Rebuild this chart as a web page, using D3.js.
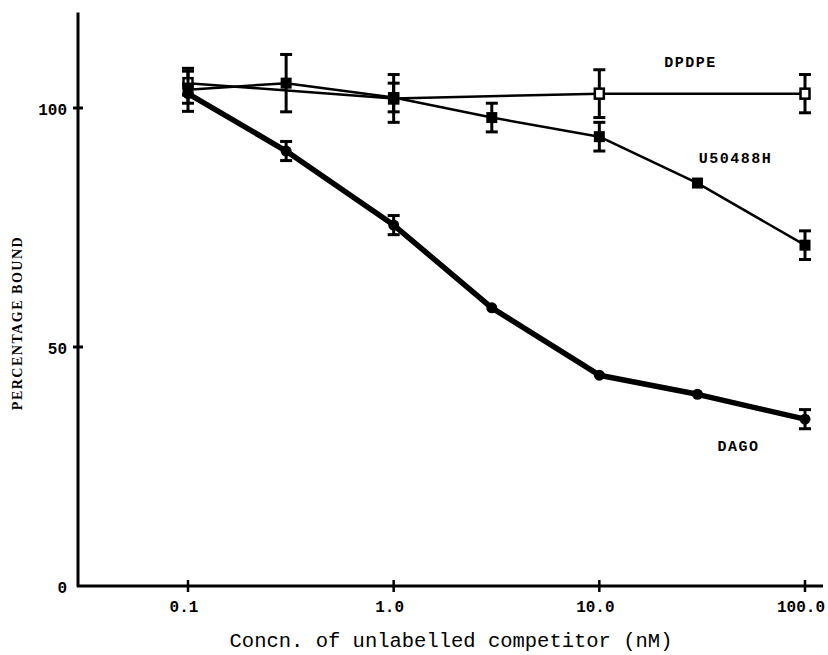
<!DOCTYPE html>
<html>
<head>
<meta charset="utf-8">
<script src="https://cdn.jsdelivr.net/npm/d3@7/dist/d3.min.js"></script>
<style>
  html, body { margin: 0; padding: 0; background: #fff; }
  svg { display: block; }
  text { fill: #000; }
</style>
</head>
<body>
<svg id="chart" width="828" height="655"></svg>
<script>
// Competitor concentrations (nM)
const conc = [0.1, 0.3, 1, 3, 10, 30, 100];
const dpdpeConc = [0.1, 1, 10, 100];

// Percentage bound (mean) and error (half-height of bar) per competitor
const dagoMean = [103, 91, 75.5, 58.2, 44.1, 40.1, 34.9];
const dagoErr  = [2, 2, 2, 0, 0, 0, 2];
const u50Mean  = [103.8, 105.2, 102.2, 98, 94, 84.3, 71.3];
const u50Err   = [4.5, 6, 3, 3, 3, 0, 3];
const dpdpeMean = [105.2, 102, 103, 103];
const dpdpeErr  = [2.5, 5, 5, 4];

// Axis ticks
const xTicks = [0.1, 1, 10, 100];
const xTickLabels = ["0.1", "1.0", "10.0", "100.0"];
const yTicks = [0, 50, 100];
const yTickLabels = ["0", "50", "100"];

const svg = d3.select("#chart");
const mono = "'Liberation Mono', 'DejaVu Sans Mono', monospace";

const x = d3.scaleLog().domain([0.1, 100]).range([188, 805]);
const y = d3.scaleLinear().domain([0, 100]).range([586, 108]);
const xAxisLeft = 78, xAxisRight = 823, yTop = 120;

// Axis lines
svg.append("line")
  .attr("x1", xAxisLeft).attr("x2", xAxisLeft)
  .attr("y1", y(yTop)).attr("y2", y(0) + 1)
  .attr("stroke", "#000").attr("stroke-width", 3);
svg.append("line")
  .attr("x1", xAxisLeft - 1).attr("x2", xAxisRight)
  .attr("y1", y(0)).attr("y2", y(0))
  .attr("stroke", "#000").attr("stroke-width", 3);

// Crossing tick marks
svg.append("g").selectAll("line").data(yTicks.filter(d => d > 0)).join("line")
  .attr("x1", xAxisLeft - 5).attr("x2", xAxisLeft + 5)
  .attr("y1", d => y(d)).attr("y2", d => y(d))
  .attr("stroke", "#000").attr("stroke-width", 3);
svg.append("g").selectAll("line").data(xTicks).join("line")
  .attr("x1", d => x(d)).attr("x2", d => x(d))
  .attr("y1", y(0) - 6).attr("y2", y(0) + 6)
  .attr("stroke", "#000").attr("stroke-width", 2.5);

// Tick labels
svg.append("g").selectAll("text").data(yTicks).join("text")
  .attr("x", xAxisLeft - 11).attr("y", d => y(d) + 7)
  .attr("text-anchor", "end")
  .style("font-family", mono).style("font-size", "16px").style("font-weight", "bold")
  .text((d, i) => yTickLabels[i]);
svg.append("g").selectAll("text").data(xTicks).join("text")
  .attr("x", d => x(d) - 4).attr("y", y(0) + 26)
  .attr("text-anchor", "middle")
  .style("font-family", mono).style("font-size", "16px").style("font-weight", "bold")
  .text((d, i) => xTickLabels[i]);

// Axis titles
svg.append("text")
  .attr("transform", "translate(22,323) rotate(-90)")
  .attr("text-anchor", "middle")
  .style("font-family", "'Liberation Serif', serif").style("font-size", "14px")
  .style("font-weight", "bold").style("letter-spacing", "1.5px")
  .text("PERCENTAGE BOUND");
svg.append("text")
  .attr("x", 451).attr("y", 647)
  .attr("text-anchor", "middle")
  .style("font-family", mono).style("font-size", "20.5px")
  .text("Concn. of unlabelled competitor (nM)");

// Series definition
const series = [
  { name: "DPDPE", xs: dpdpeConc, mean: dpdpeMean, err: dpdpeErr, width: 2.5, marker: "open" },
  { name: "U50488H", xs: conc, mean: u50Mean, err: u50Err, width: 2.5, marker: "square" },
  { name: "DAGO", xs: conc, mean: dagoMean, err: dagoErr, width: 5.5, marker: "circle" }
];

const line = d3.line().x(d => x(d.c)).y(d => y(d.v));

series.forEach(s => {
  const pts = s.xs.map((c, i) => ({ c, v: s.mean[i], e: s.err[i] }));
  const g = svg.append("g");

  g.append("path").datum(pts)
    .attr("d", line).attr("fill", "none")
    .attr("stroke", "#000").attr("stroke-width", s.width)
    .attr("stroke-linejoin", "round");

  // Error bars with caps
  const eb = g.selectAll("g.eb").data(pts.filter(p => p.e > 0)).join("g");
  eb.append("line")
    .attr("x1", p => x(p.c)).attr("x2", p => x(p.c))
    .attr("y1", p => y(p.v + p.e)).attr("y2", p => y(p.v - p.e))
    .attr("stroke", "#000").attr("stroke-width", 3);
  [1, -1].forEach(sign => {
    eb.append("line")
      .attr("x1", p => x(p.c) - 6).attr("x2", p => x(p.c) + 6)
      .attr("y1", p => y(p.v + sign * p.e)).attr("y2", p => y(p.v + sign * p.e))
      .attr("stroke", "#000").attr("stroke-width", 3);
  });

  // Markers
  if (s.marker === "circle") {
    g.selectAll("circle").data(pts).join("circle")
      .attr("cx", p => x(p.c)).attr("cy", p => y(p.v)).attr("r", 5.5)
      .attr("fill", "#000");
  } else if (s.marker === "square") {
    g.selectAll("rect").data(pts).join("rect")
      .attr("x", p => x(p.c) - 5.5).attr("y", p => y(p.v) - 5.5)
      .attr("width", 11).attr("height", 11).attr("fill", "#000");
  } else {
    g.selectAll("rect").data(pts).join("rect")
      .attr("x", p => x(p.c) - 4.5).attr("y", p => y(p.v) - 5)
      .attr("width", 9).attr("height", 10)
      .attr("fill", "#fff").attr("stroke", "#000").attr("stroke-width", 2.5);
  }
});

// Series labels
const seriesLabels = [
  { text: "DPDPE", dx: -7, y: 67 },
  { text: "U50488H", dx: 38, y: 163 },
  { text: "DAGO", dx: 41, y: 451 }
];
svg.append("g").selectAll("text").data(seriesLabels).join("text")
  .attr("x", d => x(30) + d.dx).attr("y", d => d.y)
  .attr("text-anchor", "middle")
  .style("font-family", mono).style("font-size", "15px").style("font-weight", "bold")
  .style("letter-spacing", "1.5px")
  .text(d => d.text);
</script>
</body>
</html>
